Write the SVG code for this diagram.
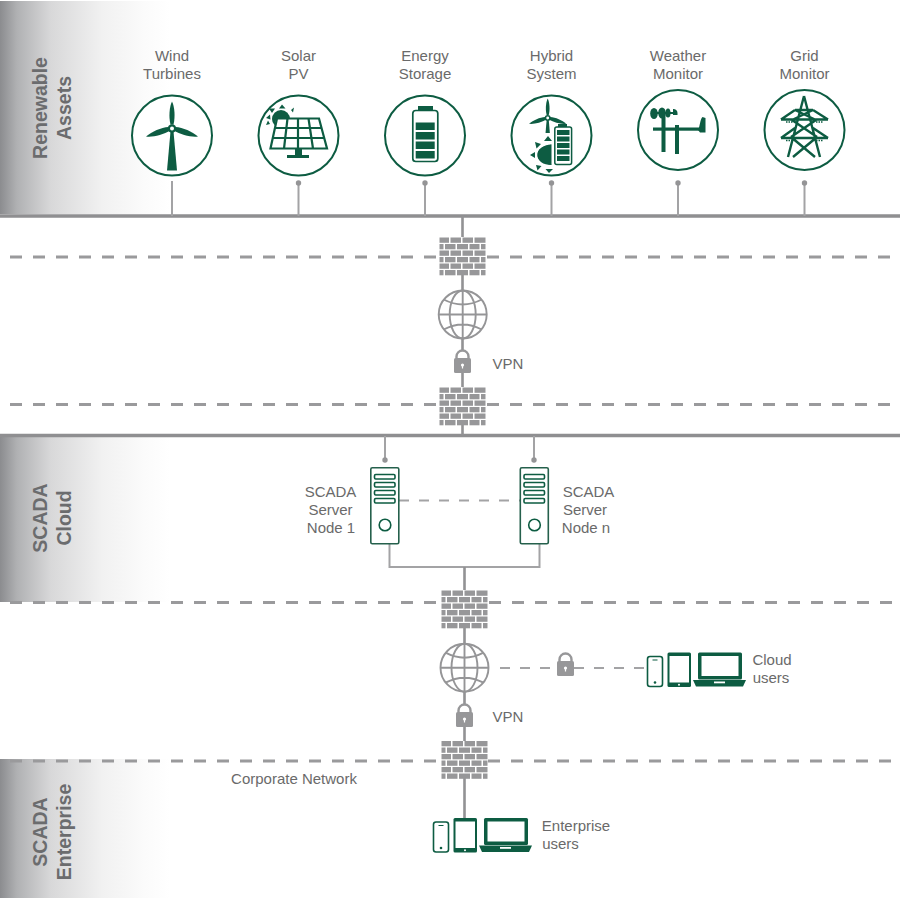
<svg xmlns="http://www.w3.org/2000/svg" xmlns:xlink="http://www.w3.org/1999/xlink" width="900" height="899" viewBox="0 0 900 899">
<style>
text{font-family:"Liberation Sans",Arial,sans-serif;font-size:15px;fill:#6a6a6a;text-anchor:middle}
text.band{font-weight:bold;font-size:19.5px;fill:#6b6c6e}
.ring{fill:#fff;stroke:#0d5c42;stroke-width:2}
.g{fill:#0d5c42}
.gl{fill:none;stroke:#0d5c42;stroke-width:1.6}
.main{stroke:#8f8f91;stroke-width:3.4;fill:none}
.dash{stroke:#9a9a9c;stroke-width:2.8;stroke-dasharray:12 11;fill:none}
.thin{stroke:#a3a3a5;stroke-width:2;fill:none}
.thind{stroke:#a3a3a5;stroke-width:2;stroke-dasharray:10 10;fill:none}
.v{stroke:#929294;stroke-width:2.6;fill:none}
.dot{fill:#949496}
.gray{fill:#979799}
.globe{fill:none;stroke:#959597;stroke-width:1.9}
</style>
<defs>
<linearGradient id="fade" x1="0" x2="1" y1="0" y2="0">
<stop offset="0" stop-color="#8b8c8f"/><stop offset=".1" stop-color="#b0b1b3"/><stop offset=".3" stop-color="#d8d8d9"/><stop offset=".6" stop-color="#f1f1f1"/><stop offset=".85" stop-color="#fbfbfb"/><stop offset="1" stop-color="#fff"/>
</linearGradient>
<g id="firewall" fill="#979799">
<rect x="0" y="0" width="9.500" height="5.300"/><rect x="11" y="0" width="10.500" height="5.300"/><rect x="23" y="0" width="10.500" height="5.300"/><rect x="35" y="0" width="11" height="5.300"/>
<rect x="0" y="6.500" width="4" height="5.300"/><rect x="5.500" y="6.500" width="10.500" height="5.300"/><rect x="17.500" y="6.500" width="11" height="5.300"/><rect x="30" y="6.500" width="10" height="5.300"/><rect x="41.500" y="6.500" width="4.500" height="5.300"/>
<rect x="0" y="13" width="9.500" height="5.300"/><rect x="11" y="13" width="10.500" height="5.300"/><rect x="23" y="13" width="10.500" height="5.300"/><rect x="35" y="13" width="11" height="5.300"/>
<rect x="0" y="19.500" width="4" height="5.300"/><rect x="5.500" y="19.500" width="10.500" height="5.300"/><rect x="17.500" y="19.500" width="11" height="5.300"/><rect x="30" y="19.500" width="10" height="5.300"/><rect x="41.500" y="19.500" width="4.500" height="5.300"/>
<rect x="0" y="26" width="9.500" height="5.300"/><rect x="11" y="26" width="10.500" height="5.300"/><rect x="23" y="26" width="10.500" height="5.300"/><rect x="35" y="26" width="11" height="5.300"/>
<rect x="0" y="32.500" width="4" height="5.300"/><rect x="5.500" y="32.500" width="10.500" height="5.300"/><rect x="17.500" y="32.500" width="11" height="5.300"/><rect x="30" y="32.500" width="10" height="5.300"/><rect x="41.500" y="32.500" width="4.500" height="5.300"/>
</g>
<g id="globe" class="globe">
<circle r="24"/><ellipse rx="13" ry="24"/><path d="M0-24V24M-24 0H24M-19-15Q0-5 19-15M-19 15Q0 5 19 15"/>
</g>
<g id="lock">
<path d="M-6-7V-8.500A6 6 0 0 1 6-8.500V-7" fill="none" stroke="#979799" stroke-width="2.400"/>
<rect x="-8.500" y="-7" width="17" height="15" rx="1.500" fill="#979799"/>
<circle cy="0" r="1.600" fill="#fff"/><rect x="-.6" y="0" width="1.200" height="3.500" fill="#fff"/>
</g>
<g id="server">
<rect x=".8" y=".8" width="28" height="76" rx="1.500" fill="#fff" stroke="#25604c" stroke-width="1.600"/>
<rect x="4.500" y="7.500" width="20.500" height="4.500" rx="1.200" class="gl"/><rect x="4.500" y="15.500" width="20.500" height="4.500" rx="1.200" class="gl"/><rect x="4.500" y="23.500" width="20.500" height="4.500" rx="1.200" class="gl"/><rect x="4.500" y="31.500" width="20.500" height="4.500" rx="1.200" class="gl"/>
<circle cx="15" cy="58" r="5.800" class="gl"/>
</g>
<g id="devices">
<rect x="647.500" y="656.500" width="15" height="30" rx="2.500" class="gl"/><rect x="652.500" y="659.500" width="5" height="1" class="g"/><circle cx="655" cy="682.500" r="1.300" class="g"/>
<rect x="667.500" y="652.500" width="23.500" height="34.500" rx="1.500" class="g"/><rect x="669.500" y="656" width="19.500" height="26.500" fill="#fff"/><circle cx="679" cy="684.800" r="1" fill="#fff"/>
<rect x="698" y="652.500" width="44" height="27" rx="1.500" class="g"/><rect x="701.500" y="656" width="37" height="20" fill="#fff"/>
<path d="M693 680H746L743 686.500H696Z" class="g"/><rect x="714" y="681.500" width="11" height="1.800" fill="#fff"/>
</g>
<g id="turbine">
<path d="M-1.500 3L-5 42H5L1.500 3Z"/>
<path d="M-1.500-4C-3.500-12-2.500-22 0-27C2.500-22 3.500-12 1.500-4Z"/>
<path d="M-3.500-1.500C-11-1-20 3-26 8C-19 9-9 6-1.500 2Z"/>
<path d="M3.500-1.500C11-1 20 3 26 8C19 9 9 6 1.500 2Z"/>
<circle r="4.200"/><circle r="2" fill="#fff"/>
</g>
</defs>
<rect width="900" height="899" fill="#fff"/>
<g id="bands">
<rect x="0" y="1" width="170" height="213" fill="url(#fade)"/>
<rect x="0" y="437" width="170" height="165" fill="url(#fade)"/>
<rect x="0" y="759" width="170" height="139" fill="url(#fade)"/>
</g>
<g id="connectors">
<path class="main" d="M0 216H900M0 435.500H900"/>
<path class="dash" d="M10 257H439M487 257H900M10 404.500H439M487 404.500H900M10 602.500H441M489 602.500H900M10 761H441M488 761H900"/>
<path class="thin" d="M172 181V216M298.500 183V216M425 183V216M551.500 183V216M678 183V216M804.500 183V216M385 436V460M534 436V460"/>
<path class="thind" d="M399 500.500H520M500 668H557M574 668H646"/>
<path class="v" d="M462.500 216V237M462.500 275V290M462.500 339V351M462.500 373V387M462.500 425V435"/>
<path class="thin" d="M389.500 544V567H539.500V544" stroke-width="2.400"/>
<path class="v" d="M464.500 567V590M464.500 628V643M464.500 692V705M464.500 727V741M464.500 778V819"/>
<circle class="dot" cx="298.500" cy="183" r="2.700"/><circle class="dot" cx="425" cy="183" r="2.700"/><circle class="dot" cx="551.500" cy="183" r="2.700"/><circle class="dot" cx="678" cy="183" r="2.700"/><circle class="dot" cx="804.500" cy="183" r="2.700"/><circle class="dot" cx="385" cy="460" r="2.700"/><circle class="dot" cx="534" cy="460" r="2.700"/>
</g>
<g id="label-renewable"><text class="band" transform="translate(47,108) rotate(-90)">Renewable</text><text class="band" transform="translate(70.500,108) rotate(-90)">Assets</text></g>
<g id="label-cloud"><text class="band" transform="translate(47,518) rotate(-90)">SCADA</text><text class="band" transform="translate(70.500,518) rotate(-90)">Cloud</text></g>
<g id="label-enterprise"><text class="band" transform="translate(47,832) rotate(-90)">SCADA</text><text class="band" transform="translate(70.500,832) rotate(-90)">Enterprise</text></g>
<g id="node-wind">
<text x="172" y="61">Wind</text><text x="172" y="79">Turbines</text>
<circle class="ring" cx="172" cy="135.500" r="40"/><use href="#turbine" x="172" y="128.500" fill="#0d5c42"/>
</g>
<g id="node-solar">
<text x="298.500" y="61">Solar</text><text x="298.500" y="79">PV</text>
<circle class="ring" cx="298.500" cy="135.500" r="40"/>
<circle cx="281" cy="119" r="9" class="g"/>
<path class="g" d="M279 108.500L282 104.500L285.500 108.500ZM272 113L269 108.500L275 108.500ZM270.500 119.500L266 118L270 114.500ZM291 110L294 107.500L293 112.500ZM270 124L266 125L268 120.500Z"/>
<path d="M276.500 118H319L328 149H269Z" fill="#fff"/>
<path d="M277 118.500H319L327 148.500H270.500ZM274.500 128H321.500M272 138H324.500M287.500 118.500L284 148.500M298 118.500V148.500M308.500 118.500L313 148.500" fill="none" stroke="#0d5c42" stroke-width="2.200"/>
<rect x="295" y="149" width="7" height="7" class="g"/><rect x="287" y="155" width="22" height="3" class="g"/>
</g>
<g id="node-storage">
<text x="425" y="61">Energy</text><text x="425" y="79">Storage</text>
<circle class="ring" cx="425" cy="135.500" r="40"/>
<rect x="418" y="106" width="15" height="5" class="g"/>
<rect x="412.800" y="110.500" width="25" height="51" rx="3" fill="#fff" stroke="#0d5c42" stroke-width="1.700"/>
<rect x="415.700" y="122.500" width="19" height="7.500" class="g"/><rect x="415.700" y="132" width="19" height="7.500" class="g"/><rect x="415.700" y="141.500" width="19" height="7.500" class="g"/><rect x="415.700" y="151" width="19" height="7.500" class="g"/>
</g>
<g id="node-hybrid">
<text x="551.500" y="61">Hybrid</text><text x="551.500" y="79">System</text>
<circle class="ring" cx="551.500" cy="135.500" r="40"/>
<g transform="translate(547.700,118) scale(.72)" fill="#0d5c42"><path d="M-1.500 3L-3 21H3L1.500 3Z"/><path d="M-1.500-4C-3.500-12-2.500-22 0-27C2.500-22 3.500-12 1.500-4Z"/><path d="M-3.500-1.500C-11-1-20 3-26 8C-19 9-9 6-1.500 2Z"/><path d="M3.500-1.500C11-1 20 3 26 8C19 9 9 6 1.500 2Z"/><circle r="4.200"/><circle r="2" fill="#fff"/></g>
<path class="g" d="M551.500 144.500A14 14 0 0 0 551.500 165Q537 162 537.500 155Q537 147 551.500 144.500Z"/>
<path class="g" d="M551.500 144.500C543 145 537.500 149 537.500 155C537.500 161 543 165 551.500 165Z"/>
<path class="g" d="M548 136L552 141H544ZM535 142L541 144L536.500 148.500ZM530 155L535 152V158ZM536 165L541.500 166L537.500 170.500ZM545.500 169H553L549 173Z"/>
<rect x="558" y="124" width="9" height="3.500" class="g"/>
<rect x="554.800" y="127" width="16.800" height="37.500" rx="2" fill="#fff" stroke="#0d5c42" stroke-width="1.500"/>
<rect x="557" y="130" width="12.500" height="5" class="g"/><rect x="557" y="136.500" width="12.500" height="5" class="g"/><rect x="557" y="143" width="12.500" height="5" class="g"/><rect x="557" y="149.500" width="12.500" height="5" class="g"/><rect x="557" y="156" width="12.500" height="5" class="g"/>
</g>
<g id="node-weather">
<text x="678" y="61">Weather</text><text x="678" y="79">Monitor</text>
<circle class="ring" cx="678" cy="130" r="40"/>
<rect x="661.500" y="113" width="4" height="39" class="g"/><rect x="675" y="125" width="4" height="29" class="g"/>
<rect x="653" y="127.500" width="47" height="3.200" class="g"/><rect x="654" y="112" width="22" height="2" class="g"/>
<ellipse class="g" cx="654" cy="113.500" rx="3.800" ry="5.500"/><ellipse class="g" cx="662" cy="113" rx="3.800" ry="5.500"/><ellipse class="g" cx="668" cy="113" rx="2.500" ry="4.500"/><path class="g" d="M673 109A4 4 0 0 1 677.500 113V115H673Z"/>
<path class="g" d="M698 130C700 127 700 119 702.500 117L705.500 118V132.500H700Z"/>
</g>
<g id="node-grid">
<text x="804.500" y="61">Grid</text><text x="804.500" y="79">Monitor</text>
<circle class="ring" cx="804.500" cy="130" r="40"/>
<path d="M804 96L788 157M804 96L820 157M795 110H813M792 120L817 137M816 120L791 137M781 119.500H828M781 138H828M795 110L781 119.500M813 110L828 119.500M795 128L781 138M813 128L828 138M791 137L815 157M817 137L793 157M795 110L816 120M813 110L792 120" fill="none" stroke="#0d5c42" stroke-width="2.400"/>
<path d="M786 122H793M816 122H823M786 140.500H793M816 140.500H823" stroke="#0d5c42" stroke-width="1.500" stroke-dasharray="1.500 1" fill="none"/>
</g>
<g id="firewall-1"><use href="#firewall" x="439.500" y="237.500"/></g>
<g id="globe-1"><use href="#globe" x="462.700" y="314.500"/></g>
<g id="lock-1"><use href="#lock" x="462.500" y="365"/><text x="508" y="369">VPN</text></g>
<g id="firewall-2"><use href="#firewall" x="439.500" y="387.500"/></g>
<g id="server-1"><use href="#server" x="370" y="467"/><text x="330.500" y="497">SCADA</text><text x="330.500" y="515">Server</text><text x="331" y="533">Node 1</text></g>
<g id="server-n"><use href="#server" x="519.500" y="467"/><text x="588.500" y="497">SCADA</text><text x="585" y="515">Server</text><text x="586" y="533">Node n</text></g>
<g id="firewall-3"><use href="#firewall" x="441.500" y="590.500"/></g>
<g id="globe-2"><use href="#globe" x="464.500" y="667.700"/></g>
<g id="lock-2"><use href="#lock" x="464.500" y="719"/><text x="508" y="722">VPN</text></g>
<g id="lock-3"><use href="#lock" x="565.500" y="668"/></g>
<g id="cloud-users"><use href="#devices"/><text x="772" y="665">Cloud</text><text x="771" y="683">users</text></g>
<g id="firewall-4"><use href="#firewall" x="441.500" y="741"/></g>
<g id="corporate"><text x="294" y="784">Corporate Network</text></g>
<g id="enterprise-users"><use href="#devices" x="-214" y="165.500"/><text x="576" y="831">Enterprise</text><text x="560.500" y="849">users</text></g>
</svg>
